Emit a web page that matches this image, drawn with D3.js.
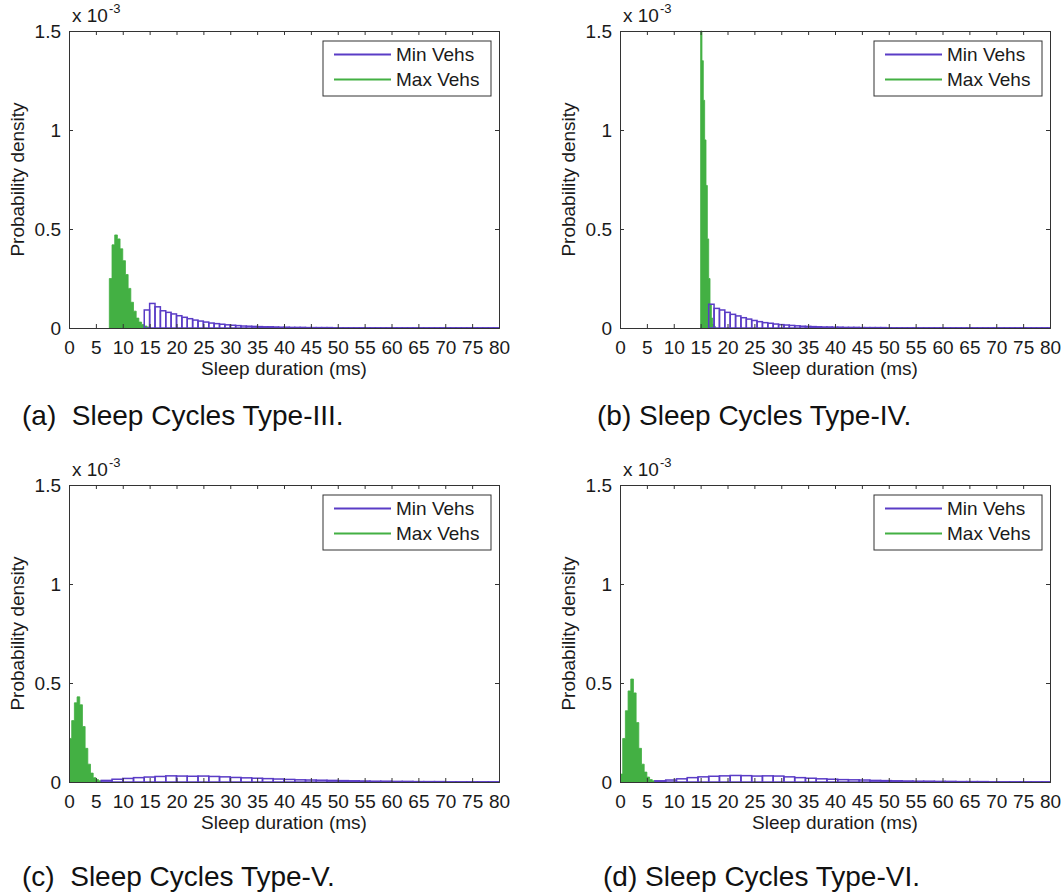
<!DOCTYPE html>
<html>
<head>
<meta charset="utf-8">
<script src="https://cdn.jsdelivr.net/npm/d3@7"></script>
<style>
  html, body { margin: 0; padding: 0; background: #fff; }
  svg { display: block; font-family: "Liberation Sans", Arial, Helvetica, sans-serif; }
</style>
</head>
<body>
<svg id="chart" width="1063" height="894"></svg>
<script>
// ---------------- DATA (densities in units of 1e-3) ----------------
const xTicks = [0,5,10,15,20,25,30,35,40,45,50,55,60,65,70,75,80];
const yTicks = [0, 0.5, 1, 1.5];
const yTickLabels = ["0", "0.5", "1", "1.5"];
const seriesNames = ["Min Vehs", "Max Vehs"];
const captions = ["(a)  Sleep Cycles Type-III.", "(b) Sleep Cycles Type-IV.", "(c)  Sleep Cycles Type-V.", "(d) Sleep Cycles Type-VI."];

// Panel (a) Type-III
const greenA_start = 7.5, greenA_width = 0.5;
const greenA = [0.25,0.42,0.47,0.45,0.40,0.34,0.27,0.20,0.13,0.085,0.05,0.03,0.018,0.01,0.005];
const purpleA_start = 14, purpleA_width = 1;
const purpleA = [0.091,0.124,0.107,0.087,0.079,0.071,0.062,0.054,0.047,0.040,0.035,0.030,0.025,0.022,0.019,0.016,0.014,0.012,0.010,0.009,0.008,0.007,0.006,0.006,0.005,0.004,0.004,0.003,0.003,0.003,0.002,0.002,0.002,0.002,0.002,0.001,0.001,0.001,0.001,0.001,0.001,0.001,0.001,0.001,0.001,0.001,0.001,0.001,0.001,0.001,0.001,0.001,0.001,0.001,0.001,0.001,0.001,0.001,0.001,0.001,0.001,0.001,0.001,0.001,0.001,0.001];

// Panel (b) Type-IV
const greenB_start = 15, greenB_width = 0.25;
const greenB = [1.5,1.35,1.15,0.95,0.72,0.45,0.25,0.12,0.05,0.02,0.008];
const purpleB_start = 16.5, purpleB_width = 1;
const purpleB = [0.12,0.099,0.091,0.079,0.069,0.061,0.052,0.045,0.038,0.032,0.027,0.024,0.020,0.017,0.015,0.013,0.011,0.009,0.008,0.007,0.006,0.005,0.005,0.004,0.004,0.003,0.003,0.003,0.002,0.002,0.002,0.002,0.002,0.001,0.001,0.001,0.001,0.001,0.001,0.001,0.001,0.001,0.001,0.001,0.001,0.001,0.001,0.001,0.001,0.001,0.001,0.001,0.001,0.001,0.001,0.001,0.001,0.001,0.001,0.001,0.001,0.001,0.001,0.001];

// Panel (c) Type-V
const greenC_start = 0, greenC_width = 0.5;
const greenC = [0.22,0.31,0.40,0.43,0.39,0.28,0.17,0.09,0.045,0.022,0.012,0.006];
const purpleC_start = 6, purpleC_width = 2;
const purpleC = [0.008,0.014,0.018,0.022,0.025,0.028,0.031,0.030,0.029,0.030,0.028,0.026,0.023,0.021,0.019,0.017,0.015,0.013,0.011,0.010,0.009,0.008,0.007,0.006,0.005,0.004,0.004,0.003,0.003,0.002,0.002,0.002,0.001,0.001,0.001,0.001,0.001];

// Panel (d) Type-VI
const greenD_start = 0, greenD_width = 0.5;
const greenD = [0.04,0.22,0.36,0.46,0.52,0.45,0.30,0.17,0.09,0.05,0.025,0.012,0.006,0.003];
const purpleD_start = 6.5, purpleD_width = 2;
const purpleD = [0.006,0.010,0.016,0.022,0.026,0.029,0.031,0.033,0.032,0.030,0.031,0.030,0.026,0.022,0.019,0.016,0.014,0.012,0.011,0.010,0.008,0.007,0.006,0.005,0.004,0.004,0.003,0.003,0.002,0.002,0.002,0.001,0.001,0.001,0.001,0.001,0.001];

// ---------------- LAYOUT ----------------
const COL_PURPLE = "#5a3cc6";
const COL_GREEN = "#43b043";
const AX = "#333";
const W = 430, H = 297;
const panels = [
  {x0: 69,  y0: 31,  cap: [22, 425],  green: [greenA_start, greenA_width, greenA], purple: [purpleA_start, purpleA_width, purpleA]},
  {x0: 620, y0: 31,  cap: [597, 425], green: [greenB_start, greenB_width, greenB], purple: [purpleB_start, purpleB_width, purpleB]},
  {x0: 69,  y0: 485, cap: [22, 886],  green: [greenC_start, greenC_width, greenC], purple: [purpleC_start, purpleC_width, purpleC]},
  {x0: 620, y0: 485, cap: [603, 886], green: [greenD_start, greenD_width, greenD], purple: [purpleD_start, purpleD_width, purpleD]}
];

const svg = d3.select("#chart");

function bins(start, width, vals) {
  return vals.map((v, i) => ({x0: start + i * width, x1: start + (i + 1) * width, v}));
}

panels.forEach((p, idx) => {
  const x = d3.scaleLinear().domain([0, 80]).range([p.x0, p.x0 + W]);
  const y = d3.scaleLinear().domain([0, 1.5]).range([p.y0 + H, p.y0]);
  const g = svg.append("g");

  const clipId = "clip" + idx;
  g.append("clipPath").attr("id", clipId).append("rect")
    .attr("x", p.x0).attr("y", p.y0 - 1).attr("width", W).attr("height", H + 1);

  const plot = g.append("g").attr("clip-path", `url(#${clipId})`);

  // green (filled) histogram as a single stepped area
  const gb_ = bins(...p.green);
  const stepPts = [];
  gb_.forEach(d => { stepPts.push([d.x0, d.v]); stepPts.push([d.x1, d.v]); });
  const area = d3.area().x(d => x(d[0])).y0(y(0)).y1(d => y(d[1]));
  plot.append("path").datum([[gb_[0].x0, 0], ...stepPts, [gb_[gb_.length - 1].x1, 0]])
    .attr("d", area)
    .attr("fill", COL_GREEN).attr("stroke", COL_GREEN).attr("stroke-width", 0.8)
    .attr("stroke-linejoin", "miter");

  // purple (outline) histogram
  plot.selectAll("rect.purple").data(bins(...p.purple)).join("rect")
    .attr("class", "purple")
    .attr("x", d => x(d.x0)).attr("width", d => x(d.x1) - x(d.x0))
    .attr("y", d => y(d.v)).attr("height", d => y(0) - y(d.v))
    .attr("fill", "none").attr("stroke", COL_PURPLE).attr("stroke-width", 1.5);

  // axes with inward ticks
  const axB = d3.axisBottom(x).tickValues(xTicks).tickSize(-4).tickPadding(8);
  const axT = d3.axisTop(x).tickValues(xTicks).tickSize(-4).tickFormat("");
  const axL = d3.axisLeft(y).tickValues(yTicks).tickSize(-4).tickPadding(8)
                .tickFormat((d, i) => yTickLabels[i]);
  const axR = d3.axisRight(y).tickValues(yTicks).tickSize(-4).tickFormat("");

  const gb = g.append("g").attr("transform", `translate(0,${p.y0 + H})`).call(axB);
  const gt = g.append("g").attr("transform", `translate(0,${p.y0})`).call(axT);
  const gl = g.append("g").attr("transform", `translate(${p.x0},0)`).call(axL);
  const gr = g.append("g").attr("transform", `translate(${p.x0 + W},0)`).call(axR);
  [gb, gt, gl, gr].forEach(a => {
    a.select(".domain").attr("stroke", AX).attr("stroke-width", 1);
    a.selectAll(".tick line").attr("stroke", AX);
    a.selectAll(".tick text").attr("fill", "#1a1a1a").attr("font-size", 19)
      .attr("font-family", '"Liberation Sans", Arial, sans-serif');
  });
  gb.selectAll(".tick text").attr("dy", "0.95em");
  gl.selectAll(".tick text").attr("dy", "0.34em");

  // exponent label
  const ex = g.append("text").attr("x", p.x0 + 3).attr("y", p.y0 - 9)
    .attr("font-size", 19).attr("fill", "#1a1a1a");
  ex.append("tspan").text("x 10");
  ex.append("tspan").attr("font-size", 13).attr("dy", -9).attr("dx", 1).text("-3");

  // axis labels
  g.append("text").attr("x", p.x0 + W / 2).attr("y", p.y0 + H + 47)
    .attr("text-anchor", "middle").attr("font-size", 19).attr("fill", "#1a1a1a")
    .text("Sleep duration (ms)");
  g.append("text")
    .attr("transform", `translate(${p.x0 - 45},${p.y0 + H / 2}) rotate(-90)`)
    .attr("text-anchor", "middle").attr("font-size", 19).attr("fill", "#1a1a1a")
    .text("Probability density");

  // legend
  const lx = p.x0 + W - 8 - 168, ly = p.y0 + 10;
  const lg = g.append("g");
  lg.append("rect").attr("x", lx).attr("y", ly).attr("width", 168).attr("height", 55)
    .attr("fill", "#fff").attr("stroke", AX).attr("stroke-width", 1);
  [COL_PURPLE, COL_GREEN].forEach((c, i) => {
    const yy = ly + 13.5 + i * 25;
    lg.append("line").attr("x1", lx + 11).attr("x2", lx + 68).attr("y1", yy).attr("y2", yy)
      .attr("stroke", c).attr("stroke-width", 2);
    lg.append("text").attr("x", lx + 73).attr("y", yy).attr("dy", "0.35em")
      .attr("font-size", 19).attr("fill", "#1a1a1a").text(seriesNames[i]);
  });

  // caption
  svg.append("text").attr("x", p.cap[0]).attr("y", p.cap[1])
    .attr("font-size", 28).attr("fill", "#111").attr("xml:space", "preserve")
    .style("white-space", "pre")
    .text(captions[idx]);
});
</script>
</body>
</html>
